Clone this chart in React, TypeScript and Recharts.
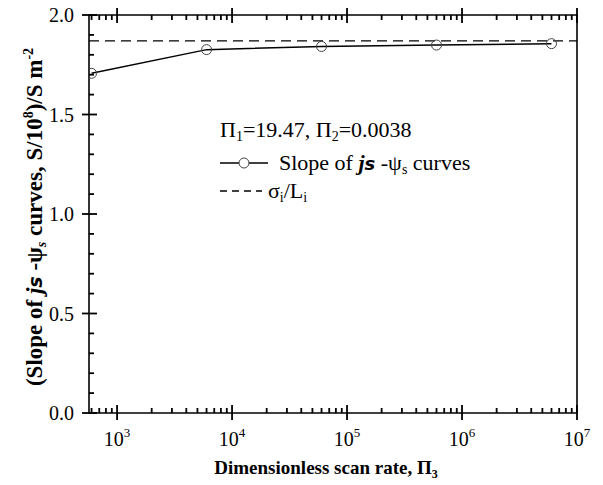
import { LineChart, Line, XAxis, YAxis, ReferenceLine } from "recharts";

// scan rate Π3 and fitted slope of j_s - ψ_s curves
const PI3 = [600, 6000, 60000, 600000, 6000000];
const SLOPE = [1.707, 1.826, 1.842, 1.849, 1.856];
const SIGMA_L = 1.87;

const X_MAJOR = [1e3, 1e4, 1e5, 1e6, 1e7];
const X_EXP = ["3", "4", "5", "6", "7"];
const Y_MAJOR = [0, 0.5, 1, 1.5, 2];
const Y_LABELS = ["0.0", "0.5", "1.0", "1.5", "2.0"];

const X_DOMAIN: [number, number] = [570, 1e7];

// minor ticks for the log axis (2..9 x 10^n) and every 0.1 on y
const X_TICKS: number[] = [];
for (let d = 2; d <= 6; d++) {
  for (let m = 1; m <= 9; m++) {
    const v = m * Math.pow(10, d);
    if (v >= X_DOMAIN[0] && v <= X_DOMAIN[1]) X_TICKS.push(v);
  }
}
X_TICKS.push(1e7);
const Y_TICKS = Array.from({ length: 21 }, (_, i) => i / 10);

const data = PI3.map((x, i) => ({ x, y: SLOPE[i] }));

const FONT = '"Liberation Serif", "Times New Roman", serif';
const INK = "#000";
const TW = 1.8;

const xIndex = (v: number) => X_MAJOR.findIndex((m) => Math.abs(m - v) / m < 1e-6);
const yIndex = (v: number) => Y_MAJOR.findIndex((m) => Math.abs(m - v) < 1e-6);

const bottomTick = ({ x, y, payload }: any) => {
  const idx = xIndex(payload.value);
  const major = idx >= 0;
  return (
    <g>
      <line x1={x} x2={x} y1={y - (major ? 8 : 5)} y2={y + (major ? 7 : 0)} stroke={INK} strokeWidth={TW} />
      {major && (
        <text x={x} y={y + 33} textAnchor="middle" fontSize={20} style={{ fontFamily: FONT }} fill={INK}>
          10
          <tspan dy={-9} fontSize={13}>
            {X_EXP[idx]}
          </tspan>
        </text>
      )}
    </g>
  );
};

const topTick = ({ x, y, payload }: any) => {
  const major = xIndex(payload.value) >= 0;
  return <line x1={x} x2={x} y1={y - (major ? 7 : 0)} y2={y + (major ? 8 : 5)} stroke={INK} strokeWidth={TW} />;
};

const leftTick = ({ x, y, payload }: any) => {
  const idx = yIndex(payload.value);
  const major = idx >= 0;
  return (
    <g>
      <line x1={x - (major ? 7 : 0)} x2={x + (major ? 8 : 5)} y1={y} y2={y} stroke={INK} strokeWidth={TW} />
      {major && (
        <text x={x - 15} y={y + 7} textAnchor="end" fontSize={20} style={{ fontFamily: FONT }} fill={INK}>
          {Y_LABELS[idx]}
        </text>
      )}
    </g>
  );
};

const rightTick = ({ x, y, payload }: any) => {
  const major = yIndex(payload.value) >= 0;
  return <line x1={x - (major ? 8 : 5)} x2={x + (major ? 7 : 0)} y1={y} y2={y} stroke={INK} strokeWidth={TW} />;
};

const axisLine = { stroke: INK, strokeWidth: 1.6 };

export default function App() {
  return (
    <div style={{ position: "absolute", left: 0, top: 0, width: 603, height: 485, background: "#fff" }}>
      <LineChart width={603} height={485} data={data} margin={{ top: 14, right: 25, bottom: 0, left: 0 }}>
        <XAxis
          dataKey="x"
          type="number"
          scale="log"
          domain={X_DOMAIN}
          allowDataOverflow
          ticks={X_TICKS}
          interval={0}
          tick={bottomTick}
          tickSize={0}
          tickMargin={0}
          tickLine={false}
          height={72}
          axisLine={axisLine}
        />
        <XAxis
          xAxisId="top"
          dataKey="x"
          type="number"
          orientation="top"
          scale="log"
          domain={X_DOMAIN}
          allowDataOverflow
          ticks={X_TICKS}
          interval={0}
          tick={topTick}
          tickSize={0}
          tickMargin={0}
          tickLine={false}
          height={1}
          axisLine={axisLine}
        />
        <YAxis
          type="number"
          domain={[0, 2]}
          ticks={Y_TICKS}
          interval={0}
          tick={leftTick}
          tickSize={0}
          tickMargin={0}
          tickLine={false}
          width={89}
          axisLine={axisLine}
        />
        <YAxis
          yAxisId="right"
          orientation="right"
          type="number"
          domain={[0, 2]}
          ticks={Y_TICKS}
          interval={0}
          tick={rightTick}
          tickSize={0}
          tickMargin={0}
          tickLine={false}
          width={1}
          axisLine={axisLine}
        />
        <ReferenceLine y={SIGMA_L} stroke={INK} strokeWidth={1.4} strokeDasharray="10 6" />
        <Line
          dataKey="y"
          type="linear"
          stroke={INK}
          strokeWidth={1.5}
          dot={{ r: 5, fill: "none", stroke: "#444", strokeWidth: 1 }}
          isAnimationActive={false}
        />
      </LineChart>
      <svg
        width={603}
        height={485}
        style={{ position: "absolute", left: 0, top: 0, pointerEvents: "none" }}
        fontFamily={FONT}
        fill={INK}
      >
        {/* legend */}
        <text x={220} y={137} fontSize={22}>
          Π<tspan dy={4} fontSize={14}>1</tspan>
          <tspan dy={-4}>=19.47, Π</tspan>
          <tspan dy={4} fontSize={14}>2</tspan>
          <tspan dy={-4}>=0.0038</tspan>
        </text>
        <line x1={220} x2={268} y1={163} y2={163} stroke={INK} strokeWidth={1.5} />
        <circle cx={244} cy={163} r={5} fill="#fff" stroke="#444" strokeWidth={1} />
        <text x={279} y={170} fontSize={22}>
          Slope of{" "}
          <tspan fontWeight="bold" fontStyle="italic">j</tspan>
          <tspan fontWeight="bold" fontStyle="italic" fontFamily='"DejaVu Sans", sans-serif' fontSize={18}>s</tspan>
          <tspan> -ψ</tspan>
          <tspan dy={4} fontSize={14}>s</tspan>
          <tspan dy={-4}> curves</tspan>
        </text>
        <line x1={220} x2={262} y1={191} y2={191} stroke={INK} strokeWidth={1.4} strokeDasharray="7 5" />
        <text x={268} y={198} fontSize={22}>
          σ<tspan dy={4} fontSize={14}>i</tspan>
          <tspan dy={-4}>/L</tspan>
          <tspan dy={4} fontSize={14}>i</tspan>
        </text>
        {/* axis titles */}
        <text x={326} y={474} fontSize={19} fontWeight="bold" textAnchor="middle">
          Dimensionless scan rate, Π<tspan dy={4} fontSize={12}>3</tspan>
        </text>
        <g transform="translate(42 217) rotate(-90)">
          <text x={0} y={0} fontSize={23} fontWeight="bold" textAnchor="middle">
            (Slope of{" "}
            <tspan fontStyle="italic">j</tspan>
            <tspan fontStyle="italic" fontFamily='"DejaVu Sans", sans-serif' fontSize={19}>s</tspan>
            <tspan> -ψ</tspan>
            <tspan dy={4} fontSize={14} fontStyle="italic">s</tspan>
            <tspan dy={-4}> curves, S/10</tspan>
            <tspan dy={-9} fontSize={14}>8</tspan>
            <tspan dy={9}>)/S m</tspan>
            <tspan dy={-9} fontSize={14}>-2</tspan>
          </text>
        </g>
      </svg>
    </div>
  );
}
